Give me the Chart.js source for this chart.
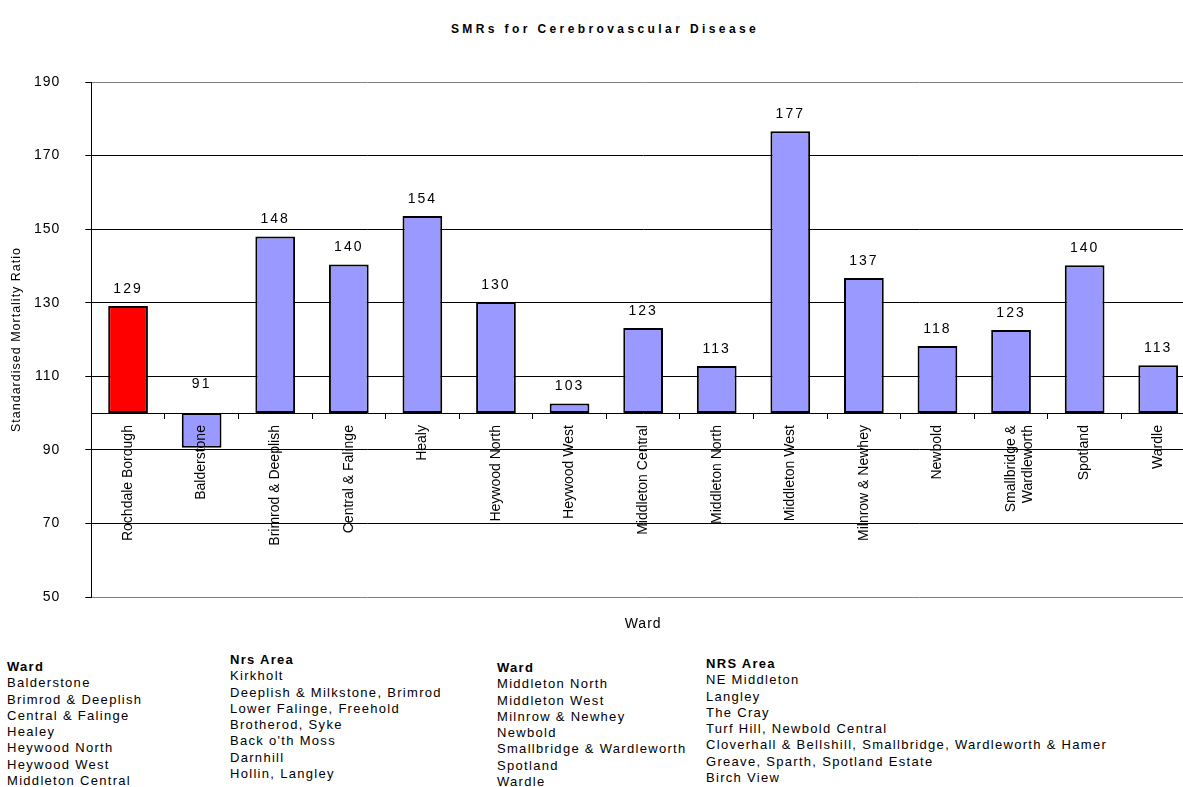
<!DOCTYPE html>
<html>
<head>
<meta charset="utf-8">
<script src="https://cdn.jsdelivr.net/npm/chart.js@4.4.1/dist/chart.umd.min.js"></script>
<style>
  html, body { margin: 0; padding: 0; background: #fff; overflow: hidden; }
  body { width: 1183px; height: 787px; position: relative; font-family: Arial, 'Liberation Sans', sans-serif; color: #000; }
  #wrap { position: absolute; left: 0; top: 0; width: 1198px; height: 640px; }
  #title { position: absolute; left: 0; width: 1210px; top: 22px; line-height: 14px; text-align: center;
           font-weight: bold; font-size: 12px; letter-spacing: 3.4px; }
  .key { position: absolute; font-size: 13px; line-height: 16.3px; letter-spacing: 1.3px; white-space: nowrap; }
  .key b { display: block; }
</style>
</head>
<body>
<div id="title">SMRs for Cerebrovascular Disease</div>
<div id="wrap"><canvas id="chart"></canvas></div>

<div class="key" style="left:7px; top:659px">
  <b>Ward</b>Balderstone<br>Brimrod &amp; Deeplish<br>Central &amp; Falinge<br>Healey<br>Heywood North<br>Heywood West<br>Middleton Central
</div>
<div class="key" style="left:230px; top:652px">
  <b>Nrs Area</b>Kirkholt<br>Deeplish &amp; Milkstone, Brimrod<br>Lower Falinge, Freehold<br>Brotherod, Syke<br>Back o'th Moss<br>Darnhill<br>Hollin, Langley
</div>
<div class="key" style="left:497px; top:660px">
  <b>Ward</b>Middleton North<br>Middleton West<br>Milnrow &amp; Newhey<br>Newbold<br>Smallbridge &amp; Wardleworth<br>Spotland<br>Wardle
</div>
<div class="key" style="left:706px; top:656px">
  <b>NRS Area</b>NE Middleton<br>Langley<br>The Cray<br>Turf Hill, Newbold Central<br>Cloverhall &amp; Bellshill, Smallbridge, Wardleworth &amp; Hamer<br>Greave, Sparth, Spotland Estate<br>Birch View
</div>

<script>
// SMR by ward, bars float from the 100 baseline
const wards = [
  'Rochdale Borough', 'Balderstone', 'Brimrod & Deeplish', 'Central & Falinge', 'Healy',
  'Heywood North', 'Heywood West', 'Middleton Central', 'Middleton North', 'Middleton West',
  'Milnrow & Newhey', 'Newbold', ['Smallbridge &', 'Wardleworth'], 'Spotland', 'Wardle'
];
const smr = [129.1, 90.6, 148, 140.4, 153.6, 130.2, 102.6, 123.1, 112.8, 176.6, 136.7, 118.2, 122.6, 140.2, 113];
const BASE = 100;
const Y_MIN = 50, Y_MAX = 190, Y_STEP = 20;

const FONT = 'Arial, "Liberation Sans", sans-serif';
const RED = '#FF0000', BLUE = '#9999FF';

Chart.defaults.font.family = FONT;
Chart.defaults.color = '#000';

// letter spacing for axis text + value labels (excel export look)
const valueLabels = {
  id: 'valueLabels',
  beforeDraw(chart) { chart.ctx.letterSpacing = '1px'; },
  afterDatasetsDraw(chart) {
    const ctx = chart.ctx;
    const y = chart.scales.y;
    const meta = chart.getDatasetMeta(0);
    ctx.save();
    ctx.letterSpacing = '2px';
    ctx.font = '14px ' + FONT;
    ctx.fillStyle = '#000';
    ctx.textAlign = 'center';
    ctx.textBaseline = 'middle';
    meta.data.forEach((bar, i) => {
      const v = smr[i];
      const py = y.getPixelForValue(Math.max(v, BASE)) - (v < BASE ? 29 : 17);
      ctx.fillText(String(Math.round(v)), bar.x, py);
    });
    ctx.restore();
    ctx.letterSpacing = '0px';
  }
};

new Chart(document.getElementById('chart'), {
  type: 'bar',
  data: {
    labels: wards,
    datasets: [{
      data: smr.map(v => [BASE, v]),
      backgroundColor: wards.map((w, i) => i === 0 ? RED : BLUE),
      borderColor: '#000',
      borderWidth: 2,
      borderSkipped: false,
      barPercentage: 0.54,
      categoryPercentage: 1,
      xAxisID: 'x',
      yAxisID: 'y',
    }],
  },
  options: {
    responsive: true,
    maintainAspectRatio: false,
    animation: false,
    layout: { padding: { top: 82, left: 0, right: 3, bottom: 3.6 } },
    plugins: { legend: { display: false }, tooltip: { enabled: false } },
    scales: {
      x: {
        position: { y: BASE },
        offset: true,
        grid: { offset: true, drawOnChartArea: false, tickLength: 5, tickColor: '#000' },
        border: { color: '#000', width: 1 },
        ticks: { minRotation: 90, maxRotation: 90, autoSkip: false, padding: 7, font: { size: 14 }, color: '#000', z: 1 },
      },
      x2: {
        type: 'category',
        position: 'bottom',
        grid: { display: false, drawTicks: false },
        border: { display: false },
        ticks: { display: false },
        title: { display: true, text: 'Ward', font: { size: 14 }, padding: { top: 18.6, bottom: 4 } },
      },
      y: {
        min: Y_MIN,
        max: Y_MAX,
        ticks: { stepSize: Y_STEP, padding: 25, font: { size: 14 }, color: '#000' },
        grid: {
          color: c => (c.tick && (c.tick.value === Y_MIN || c.tick.value === Y_MAX)) ? '#808080' : '#000',
          tickLength: 6,
          tickColor: '#000',
        },
        border: { color: '#000', width: 1 },
        // tick padding is counted twice in the scale width, so pull the title block in
        title: { display: true, text: 'Standardised Mortality Ratio', font: { size: 12.5 }, padding: { top: 9.5, bottom: -12.6 } },
      },
    },
  },
  plugins: [valueLabels],
});
</script>
</body>
</html>
